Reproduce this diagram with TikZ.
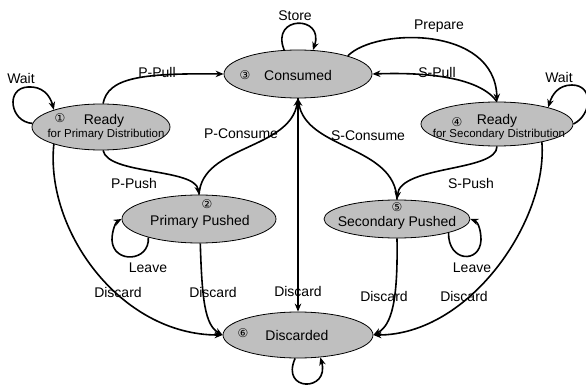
\documentclass[tikz,border=0pt]{standalone}
\usepackage{fontspec}
\setmainfont{Liberation Sans}
\newfontfamily\circfont{DejaVu Sans}
\usetikzlibrary{shapes.geometric,arrows.meta}
\begin{document}
\begin{tikzpicture}[x=1pt,y=-1pt,
  state/.style={ellipse, draw, line width=0.8pt, fill=black!25, inner sep=0pt},
  arr/.style={line width=1.6pt, -{Stealth[length=8pt,width=6.5pt]}},
  con/.style={line width=1.6pt},
  lbl/.style={font=\fontsize{14}{16}\selectfont, inner sep=0pt},
  sub/.style={font=\fontsize{11.5}{13}\selectfont, inner sep=0pt},
  num/.style={font=\circfont\fontsize{12}{14}\selectfont, inner sep=0pt}]
\useasboundingbox (0,0) rectangle (586,385);

% states
\node[state, minimum width=148pt, minimum height=48pt] (C) at (298,74) {};
\node[state, minimum width=138pt, minimum height=46pt] (RP) at (101,127) {};
\node[state, minimum width=152pt, minimum height=44pt] (RS) at (497,124) {};
\node[state, minimum width=154pt, minimum height=48pt] (PP) at (199,219) {};
\node[state, minimum width=146pt, minimum height=38pt] (SP) at (397,219) {};
\node[state, minimum width=150pt, minimum height=46pt] (D) at (298,335) {};

% state texts
\node[num] (Cn) at (245,75) {③};
\node[lbl] (Ct) at (298,75) {Consumed};
\node[num] (RPn) at (60,118) {①};
\node[lbl] (RPt) at (104,121) {Ready};
\node[sub] (RPs) at (106,135) {for Primary Distribution};
\node[num] (RSn) at (457,122) {④};
\node[lbl] (RSt) at (497,121) {Ready};
\node[sub] (RSs) at (499,135) {for Secondary Distribution};
\node[num] (PPn) at (207,204) {②};
\node[lbl] (PPt) at (200,222) {Primary Pushed};
\node[num] (SPn) at (397,207) {⑤};
\node[lbl] (SPt) at (397,223) {Secondary Pushed};
\node[num] (Dn) at (243,333) {⑥};
\node[lbl] (Dt) at (297,335) {Discarded};

% connectors
\draw[arr] (RP.177) .. controls (10,122) and (5,88) .. (28,87) .. controls (42,86) and (50,95) .. (RP.160);
\draw[arr] (C.120) .. controls (270,15) and (325,15) .. (C.58);
\draw[arr] (RP.85) .. controls (108,78) and (140,73) .. (C.west);
\draw[arr] (RS.north) .. controls (480,78) and (430,72) .. (C.east);
\draw[arr] (C.20) .. controls (375,28) and (495,25) .. (RS.north);
\draw[arr] (RS.0) .. controls (592,115) and (594,85) .. (572,85) .. controls (558,85) and (552,95) .. (RS.18);
\draw[arr] (RP.-85) .. controls (108,175) and (195,168) .. (PP.north);
\draw[arr] (PP.north) .. controls (202,145) and (290,150) .. (C.south);
\draw[arr] (SP.north) .. controls (395,145) and (306,150) .. (C.south);
\draw[arr] (RS.-90) .. controls (497,172) and (400,165) .. (SP.north);
\draw[arr] (PP.200) .. controls (150,262) and (113,264) .. (112,240) .. controls (112,230) and (116,222) .. (PP.west);
\draw[arr] (SP.-15) .. controls (448,262) and (480,264) .. (481,240) .. controls (481,230) and (478,222) .. (SP.east);
\draw[arr] (RP.200) .. controls (45,230) and (120,335) .. (D.west);
\draw[arr] (PP.-87) .. controls (202,300) and (205,325) .. (D.west);
\draw[arr] (C.south) -- (D.north);
\draw[arr] (SP.-90) .. controls (398,300) and (392,325) .. (D.east);
\draw[arr] (RS.-22) .. controls (548,220) and (470,335) .. (D.east);
\draw[arr] (D.-97) .. controls (280,392) and (330,392) .. (D.-45);

% connector labels
\node[lbl] (lStore) at (295,16) {Store};
\node[lbl] (lPrep) at (439,26) {Prepare};
\node[lbl] (lPPull) at (157,72) {P-Pull};
\node[lbl] (lSPull) at (437,72) {S-Pull};
\node[lbl] (lWaitL) at (21,78) {Wait};
\node[lbl] (lWaitR) at (559,77) {Wait};
\node[lbl] (lPCons) at (241,134) {P-Consume};
\node[lbl] (lSCons) at (368,136) {S-Consume};
\node[lbl] (lPPush) at (134,183) {P-Push};
\node[lbl] (lSPush) at (471,183) {S-Push};
\node[lbl] (lLeaveL) at (148,268) {Leave};
\node[lbl] (lLeaveR) at (472,268) {Leave};
\node[lbl] (lD1) at (118,292) {Discard};
\node[lbl] (lD2) at (213,292) {Discard};
\node[lbl] (lD3) at (298,291) {Discard};
\node[lbl] (lD4) at (384,296) {Discard};
\node[lbl] (lD5) at (464,296) {Discard};
\end{tikzpicture}
\end{document}
